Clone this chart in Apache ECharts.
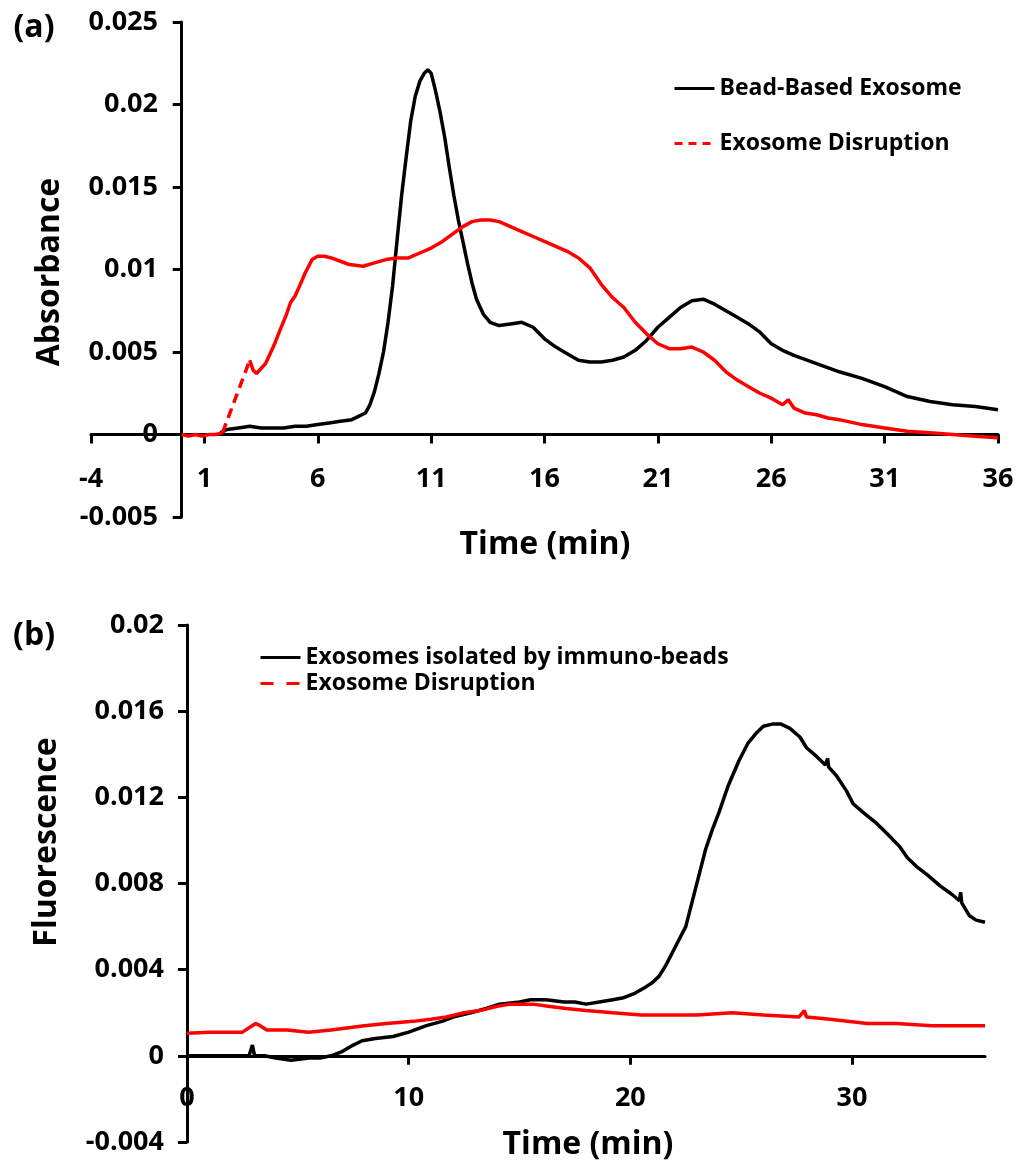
<!DOCTYPE html>
<html>
<head>
<meta charset="utf-8">
<script src="https://cdn.jsdelivr.net/npm/echarts@6/dist/echarts.min.js"></script>
<style>html,body{margin:0;padding:0;background:#fff}#c{width:1021px;height:1170px}</style>
</head>
<body>
<div id="c"></div>
<script>
// ---------- Panel (a): Absorbance ----------
const absXTicks = [-4, 1, 6, 11, 16, 21, 26, 31, 36];
const absYTicks = [-0.005, 0, 0.005, 0.01, 0.015, 0.02, 0.025];

const beadTime = [1.7,2.0,2.5,3.0,3.5,4.0,4.5,5.0,5.5,6.0,6.5,7.0,7.5,7.8,8.1,8.3,8.5,8.7,8.9,9.1,9.3,9.5,9.7,9.9,10.1,10.3,10.5,10.7,10.85,11.0,11.2,11.4,11.6,11.8,12.0,12.2,12.4,12.6,12.8,13.0,13.3,13.6,14.0,14.5,15.0,15.5,16.0,16.5,17.0,17.5,18.0,18.5,19.0,19.5,20.0,20.5,21.0,21.5,22.0,22.5,23.0,23.5,24.0,24.5,25.0,25.5,26.0,26.5,27.0,28.0,29.0,30.0,31.0,32.0,33.0,34.0,35.0,36.0];
const beadAbs = [0.0001,0.0003,0.0004,0.0005,0.0004,0.0004,0.0004,0.0005,0.0005,0.0006,0.0007,0.0008,0.0009,0.0011,0.0013,0.0018,0.0026,0.0037,0.0050,0.0068,0.0090,0.0118,0.0145,0.0168,0.0190,0.0205,0.0214,0.0219,0.0221,0.0219,0.0208,0.0195,0.0180,0.0162,0.0145,0.0130,0.0117,0.0104,0.0092,0.0082,0.0073,0.0068,0.0066,0.0067,0.0068,0.0065,0.0058,0.0053,0.0049,0.0045,0.0044,0.0044,0.0045,0.0047,0.0051,0.0057,0.0065,0.0071,0.0077,0.0081,0.0082,0.0079,0.0075,0.0071,0.0067,0.0062,0.0055,0.0051,0.0048,0.0043,0.0038,0.0034,0.0029,0.0023,0.0020,0.0018,0.0017,0.0015];

const disruptStartTime = [0,0.3,0.6,0.9,1.2,1.5,1.8];
const disruptStartAbs = [0.0000,-0.0001,0.0000,-0.0001,0.0000,0.0000,0.0001];
const disruptGapTime = [1.8, 3.0];
const disruptGapAbs = [0.0001, 0.0045];
const disruptTime = [3.0,3.15,3.3,3.5,3.7,3.9,4.1,4.3,4.6,4.8,5.0,5.2,5.45,5.75,6.0,6.3,6.6,7.0,7.4,8.0,8.5,9.0,9.5,10.0,10.5,11.0,11.5,12.0,12.4,12.8,13.2,13.6,14.0,14.5,15.0,15.5,16.0,16.5,17.0,17.5,18.0,18.5,19.0,19.5,20.0,20.5,21.0,21.5,22.0,22.5,23.0,23.5,24.0,24.5,25.0,25.5,26.0,26.5,26.75,27.0,27.5,28.0,28.5,29.0,30.0,31.0,32.0,33.0,34.0,35.0,36.0];
const disruptAbs = [0.0045,0.0039,0.0037,0.0040,0.0043,0.0049,0.0055,0.0062,0.0072,0.0080,0.0084,0.0090,0.0098,0.0106,0.0108,0.0108,0.0107,0.0105,0.0103,0.0102,0.0104,0.0106,0.0107,0.0107,0.0110,0.0113,0.0117,0.0122,0.0126,0.0129,0.0130,0.0130,0.0129,0.0126,0.0123,0.0120,0.0117,0.0114,0.0111,0.0107,0.0101,0.0091,0.0083,0.0077,0.0068,0.0061,0.0055,0.0052,0.0052,0.0053,0.0050,0.0045,0.0038,0.0033,0.0029,0.0025,0.0022,0.0018,0.0021,0.0016,0.0013,0.0012,0.0010,0.0009,0.0006,0.0004,0.0002,0.0001,0.0000,-0.0001,-0.0002];

// ---------- Panel (b): Fluorescence ----------
const fluXTicks = [0, 10, 20, 30];
const fluYTicks = [-0.004, 0, 0.004, 0.008, 0.012, 0.016, 0.02];

const immunoTime = [0,1,2,2.8,2.95,3.05,3.5,4,4.7,5.5,6.0,6.5,7.0,7.5,7.9,8.5,9.3,10.0,10.8,11.5,12.0,12.8,13.5,14.1,15.0,15.5,16.2,17.0,17.5,18.0,18.6,19.2,19.7,20.2,20.7,21.0,21.3,21.6,21.9,22.2,22.5,22.7,22.9,23.15,23.4,23.7,24.0,24.4,24.9,25.3,25.7,26.0,26.4,26.8,27.2,27.65,27.95,28.4,28.8,28.9,28.95,29.3,29.75,30.05,30.5,31.1,31.6,32.16,32.5,32.9,33.4,33.96,34.5,34.85,34.9,34.95,35.3,35.6,36.0];
const immunoFlu = [0.0000,0.0000,0.0000,0.0000,0.0005,0.0000,0.0000,-0.0001,-0.0002,-0.0001,-0.0001,0.0000,0.0002,0.0005,0.0007,0.0008,0.0009,0.0011,0.0014,0.0016,0.0018,0.0020,0.0022,0.0024,0.0025,0.0026,0.0026,0.0025,0.0025,0.0024,0.0025,0.0026,0.0027,0.0029,0.0032,0.0034,0.0037,0.0042,0.0048,0.0054,0.0060,0.0068,0.0076,0.0086,0.0096,0.0105,0.0113,0.0125,0.0137,0.0145,0.0150,0.0153,0.0154,0.0154,0.0152,0.0148,0.0143,0.0139,0.0135,0.0138,0.0134,0.0130,0.0123,0.0117,0.0113,0.0108,0.0103,0.0097,0.0092,0.0088,0.0084,0.0079,0.0075,0.0072,0.0076,0.0071,0.0065,0.0063,0.0062];

const fluDisruptTime = [0,1,2,2.5,2.8,3.1,3.3,3.6,4.5,5.5,6.5,8.0,9.0,10.2,11.0,11.7,12.5,13.2,14.0,14.6,15.6,16.3,17.1,18.0,19.2,20.5,21.6,23.0,24.6,26.0,27.6,27.85,27.95,29.0,30.7,32.0,33.6,35.0,36.0];
const fluDisruptFlu = [0.00105,0.0011,0.0011,0.0011,0.0013,0.0015,0.0014,0.0012,0.0012,0.0011,0.0012,0.0014,0.0015,0.0016,0.0017,0.0018,0.0020,0.0021,0.0023,0.0024,0.0024,0.0023,0.0022,0.0021,0.0020,0.0019,0.0019,0.0019,0.0020,0.0019,0.0018,0.0021,0.0018,0.0017,0.0015,0.0015,0.0014,0.0014,0.0014];

const FONT = '"Open Sans"';
const zip = (t, v) => t.map((x, i) => [x, v[i]]);
const fmt = v => String(parseFloat(Number(v).toFixed(4)));

function xAxisCfg(gridIndex, min, max, ticks, margin) {
  return {
    type: 'value', gridIndex, min, max,
    axisLine: { show: true, onZero: true, lineStyle: { color: '#000', width: 3 } },
    axisTick: { show: true, length: 9, lineStyle: { color: '#000', width: 3 }, customValues: ticks },
    axisLabel: { margin, color: '#000', fontFamily: FONT, fontWeight: 'bold', fontSize: 27, customValues: ticks, formatter: v => fmt(v) },
    splitLine: { show: false }
  };
}
function yAxisCfg(gridIndex, min, max, ticks, margin) {
  return {
    type: 'value', gridIndex, min, max,
    axisLine: { show: true, onZero: true, lineStyle: { color: '#000', width: 3 } },
    axisTick: { show: true, length: 9, lineStyle: { color: '#000', width: 3 }, customValues: ticks },
    axisLabel: { margin, color: '#000', fontFamily: FONT, fontWeight: 'bold', fontSize: 27, customValues: ticks, formatter: v => fmt(v) },
    splitLine: { show: false }
  };
}
function lineSeries(name, xi, data, color, type, z) {
  return {
    type: 'line', name, xAxisIndex: xi, yAxisIndex: xi, data,
    symbol: 'none', showSymbol: false, silent: true, animation: false, z: z || 2,
    lineStyle: { color, width: 3.5, type: type || 'solid' },
    itemStyle: { color }
  };
}
const titleStyle = (text, x, y, rot, size) => ({
  type: 'text', x, y, rotation: rot || 0,
  style: { text, fill: '#000', font: `bold ${size}px ${FONT}`, textAlign: 'center', textVerticalAlign: 'middle' }
});
const legendText = { color: '#000', fontFamily: FONT, fontWeight: 'bold', fontSize: 23 };

const chart = echarts.init(document.getElementById('c'), null, { renderer: 'canvas' });
chart.setOption({
  animation: false,
  backgroundColor: '#fff',
  grid: [
    { left: 91, top: 22, width: 907, height: 495 },
    { left: 187, top: 625, width: 798, height: 517 }
  ],
  xAxis: [ xAxisCfg(0, -4, 36, absXTicks, -51), xAxisCfg(1, 0, 36, fluXTicks, -57) ],
  yAxis: [ yAxisCfg(0, -0.005, 0.025, absYTicks, -67), yAxisCfg(1, -0.004, 0.02, fluYTicks, 23) ],
  legend: [
    {
      left: 668, top: 72, orient: 'vertical', itemWidth: 40, itemHeight: 14, itemGap: 32,
      textStyle: legendText,
      itemStyle: { opacity: 0 },
      data: [
        { name: 'Bead-Based Exosome', lineStyle: { width: 3, color: '#000', opacity: 1 } },
        { name: 'Exosome Disruption', lineStyle: { type: [8, 6], width: 3, color: '#ff0000', opacity: 1 } }
      ],
      selectedMode: false
    },
    {
      left: 254, top: 641, orient: 'vertical', itemWidth: 40, itemHeight: 14, itemGap: 3,
      textStyle: legendText,
      itemStyle: { opacity: 0 },
      data: [
        { name: 'Exosomes isolated by immuno-beads', lineStyle: { width: 3, color: '#000', opacity: 1 } },
        { name: 'Exosome Disruption ', lineStyle: { type: [13, 13], width: 3, color: '#ff0000', opacity: 1 } }
      ],
      selectedMode: false
    }
  ],
  graphic: [
    titleStyle('(a)', 34, 28, 0, 32),
    titleStyle('(b)', 34, 636, 0, 32),
    titleStyle('Absorbance', 50, 272, Math.PI / 2, 32),
    titleStyle('Time (min)', 545, 545, 0, 32),
    titleStyle('Fluorescence', 47, 842, Math.PI / 2, 32),
    titleStyle('Time (min)', 588, 1145, 0, 32)
  ],
  series: [
    lineSeries('Bead-Based Exosome', 0, zip(beadTime, beadAbs), '#000000'),
    lineSeries('Exosome Disruption', 0, zip(disruptTime, disruptAbs), '#ff0000', 'solid', 3),
    lineSeries('disrupt-start', 0, zip(disruptStartTime, disruptStartAbs), '#ff0000', 'solid', 3),
    lineSeries('disrupt-gap', 0, zip(disruptGapTime, disruptGapAbs), '#ff0000', [10, 6], 3),
    lineSeries('Exosomes isolated by immuno-beads', 1, zip(immunoTime, immunoFlu), '#000000'),
    lineSeries('Exosome Disruption ', 1, zip(fluDisruptTime, fluDisruptFlu), '#ff0000', 'solid', 3)
  ]
});
</script>
</body>
</html>
